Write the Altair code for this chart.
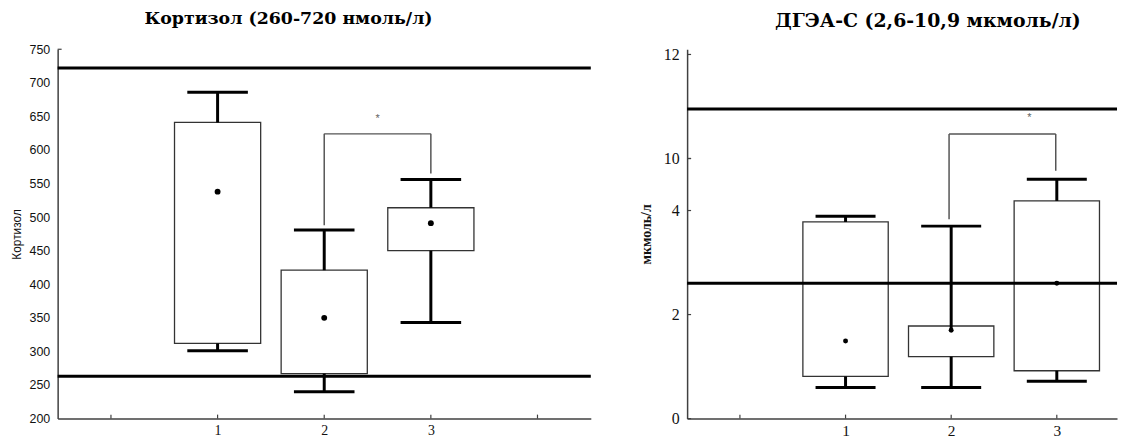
import altair as alt
import pandas as pd

# ---------------- Left panel: Кортизол ----------------
groups = [1, 2, 3]
k_low = [301, 240, 343]
k_q1 = [312, 267, 450]
k_mean = [538, 350, 491]
k_q3 = [641, 421, 514]
k_high = [686, 481, 556]
k_refs = [263, 722]
k_bracket_x = [2, 3]
k_bracket_bottom = [488, 565]
k_bracket_top = [624, 624]
k_star_x = [2.5]
k_star_y = [646]
k_xticks = [0, 1, 2, 3, 4]
k_yticks = [200, 250, 300, 350, 400, 450, 500, 550, 600, 650, 700, 750]

# ---------------- Right panel: ДГЭА-С ----------------
d_low = [0.60, 0.60, 0.72]
d_q1 = [0.81, 1.19, 0.92]
d_mean = [1.49, 1.70, 2.60]
d_q3 = [3.78, 1.78, 5.11]
d_high = [3.89, 3.70, 7.6]
d_whisker_from_mean = [False, True, False]
d_refs = [2.6, 10.95]
d_bracket_x = [1.98, 2.99]
d_bracket_bottom = [3.83, 8.6]
d_bracket_top = [10.47, 10.47]
d_star_x = [2.74]
d_star_y = [10.78]
d_xticks = [0, 1, 2, 3]
d_yticks = [0, 2, 4, 10, 12]
d_axis_break = [10]

BOX_HALF = 0.404
CAP_HALF = 0.284


def brk(v):
    """Broken axis: 0-4 linear, 4-10 compressed into one unit, above 10 linear."""
    if v <= 4:
        return v
    if v <= 10:
        return 4 + (v - 4) / 6.0
    return 5 + (v - 10)


SERIF = "Liberation Serif, Times New Roman, serif"
TSERIF = "DejaVu Serif, serif"
SANS = "Liberation Sans, Arial, sans-serif"
AXC = "#404040"
H = 372


def panel(low, q1, mean, q3, high, refs, bx, bb, bt, sx, sy, xticks, ydomain,
          yvals, ylabels_expr, ytitle, ytitle_font, ytitle_weight, ytitle_size,
          ylabel_font, ylabel_size, xlabel_size, xdomain, width, title, title_dx,
          title_size, transform, whisker_from_mean, yticks_inward, dot_size, ytitle_pad):
    f = transform
    box = pd.DataFrame({
        "g": groups,
        "xl": [g - BOX_HALF for g in groups],
        "xr": [g + BOX_HALF for g in groups],
        "cl": [g - CAP_HALF for g in groups],
        "cr": [g + CAP_HALF for g in groups],
        "low": [f(v) for v in low],
        "q1": [f(v) for v in q1],
        "mean": [f(v) for v in mean],
        "q3": [f(v) for v in q3],
        "high": [f(v) for v in high],
        "wstart": [f(m) if fl else f(q) for m, q, fl in zip(mean, q3, whisker_from_mean)],
    })
    xs = alt.Scale(domain=xdomain, nice=False, zero=False)
    ys = alt.Scale(domain=ydomain, nice=False, zero=False)

    xaxis = alt.Axis(values=xticks, labelExpr="datum.value >= 1 && datum.value <= 3 ? datum.label : ''",
                     title=None, ticks=False, grid=False, domainColor=AXC, domainWidth=1.5,
                     labelFont=SERIF, labelFontSize=xlabel_size, labelColor="#111",
                     labelPadding=5)
    yaxis = alt.Axis(values=yvals, labelExpr=ylabels_expr, title=ytitle, ticks=False, grid=False,
                     domainColor=AXC, domainWidth=1.5, labelFont=ylabel_font,
                     labelFontSize=ylabel_size, labelColor="#111", labelPadding=8,
                     titleFont=ytitle_font, titleFontWeight=ytitle_weight,
                     titleFontSize=ytitle_size, titleColor="#111", titlePadding=ytitle_pad)

    def X(field):
        return alt.X(field, scale=xs, axis=xaxis)

    def Y(field):
        return alt.Y(field, scale=ys, axis=yaxis)

    boxes = alt.Chart(box).mark_rect(fill="white", stroke="#333", strokeWidth=1.3).encode(
        x=X("xl:Q"), x2="xr:Q", y=Y("q1:Q"), y2="q3:Q")
    w_hi = alt.Chart(box).mark_rule(color="black", strokeWidth=3).encode(
        x=X("g:Q"), y=Y("wstart:Q"), y2="high:Q")
    w_lo = alt.Chart(box).mark_rule(color="black", strokeWidth=3).encode(
        x=X("g:Q"), y=Y("low:Q"), y2="q1:Q")
    cap_hi = alt.Chart(box).mark_rule(color="black", strokeWidth=3).encode(
        x=X("cl:Q"), x2="cr:Q", y=Y("high:Q"))
    cap_lo = alt.Chart(box).mark_rule(color="black", strokeWidth=3).encode(
        x=X("cl:Q"), x2="cr:Q", y=Y("low:Q"))
    dots = alt.Chart(box).mark_point(filled=True, color="black", size=dot_size, opacity=1).encode(
        x=X("g:Q"), y=Y("mean:Q"))

    refdf = pd.DataFrame({"r": [f(v) for v in refs]})
    reflines = alt.Chart(refdf).mark_rule(color="black", strokeWidth=3).encode(
        y=Y("r:Q"), x=alt.value(0), x2=alt.value(width))

    brdf = pd.DataFrame({"x": bx, "b": [f(v) for v in bb], "t": [f(v) for v in bt]})
    br_v = alt.Chart(brdf).mark_rule(color="#555", strokeWidth=1.5).encode(
        x=X("x:Q"), y=Y("b:Q"), y2="t:Q")
    br_h = alt.Chart(brdf).mark_line(color="#555", strokeWidth=1.5).encode(
        x=X("x:Q"), y=Y("t:Q"))
    stdf = pd.DataFrame({"x": sx, "y": [f(v) for v in sy], "s": ["*"]})
    star = alt.Chart(stdf).mark_text(font=SANS, fontSize=11, color="#666", baseline="middle").encode(
        x=X("x:Q"), y=Y("y:Q"), text="s:N")

    xtdf = pd.DataFrame({"x": xticks})
    xt = alt.Chart(xtdf).mark_rule(color=AXC, strokeWidth=1.2).encode(
        x=X("x:Q"), y=alt.value(H), y2=alt.value(H - 4))

    layers = [boxes, w_hi, w_lo, cap_hi, cap_lo, dots, reflines, br_v, br_h, star, xt]

    if yticks_inward:
        ytdf = pd.DataFrame({"y": [f(v) for v in yticks_inward]})
        yt = alt.Chart(ytdf).mark_rule(color=AXC, strokeWidth=1.2).encode(
            y=Y("y:Q"), x=alt.value(0), x2=alt.value(4))
        layers.append(yt)

    return alt.layer(*layers).properties(
        width=width, height=H,
        title=alt.TitleParams(title, font=TSERIF, fontSize=title_size, fontWeight="bold",
                              color="black", dx=title_dx, offset=16, anchor="middle"),
    )


left = panel(k_low, k_q1, k_mean, k_q3, k_high, k_refs, k_bracket_x, k_bracket_bottom,
             k_bracket_top, k_star_x, k_star_y, k_xticks, [200, 750], k_yticks,
             "datum.label", "Кортизол", SANS, "normal", 12, SANS, 12.5, 14,
             [-0.5, 4.5], 537, "Кортизол (260-720 нмоль/л)", -36, 17.5, lambda v: v,
             [False, False, False], [750], 35, 6)

right_tick_pos = [brk(v) for v in d_yticks]
right_expr = ("datum.value == 5 ? '10' : datum.value == 7 ? '12' : datum.label")
right = panel(d_low, d_q1, d_mean, d_q3, d_high, d_refs, d_bracket_x, d_bracket_bottom,
              d_bracket_top, d_star_x, d_star_y, d_xticks, [0, 7.1], right_tick_pos,
              right_expr, "мкмоль/л", SERIF, "bold", 14, SERIF, 16, 15.5,
              [-0.5, 3.57], 433, "ДГЭА-С (2,6-10,9 мкмоль/л)", 26, 19, brk,
              d_whisker_from_mean, d_yticks + d_axis_break, 25, 10)

chart = alt.hconcat(left, right, spacing=47).properties(
    padding={"left": 2, "top": 0, "right": 0, "bottom": 0}
).configure_view(stroke=None)

chart.save("out.html", embed_options={"renderer": "svg", "actions": False})
